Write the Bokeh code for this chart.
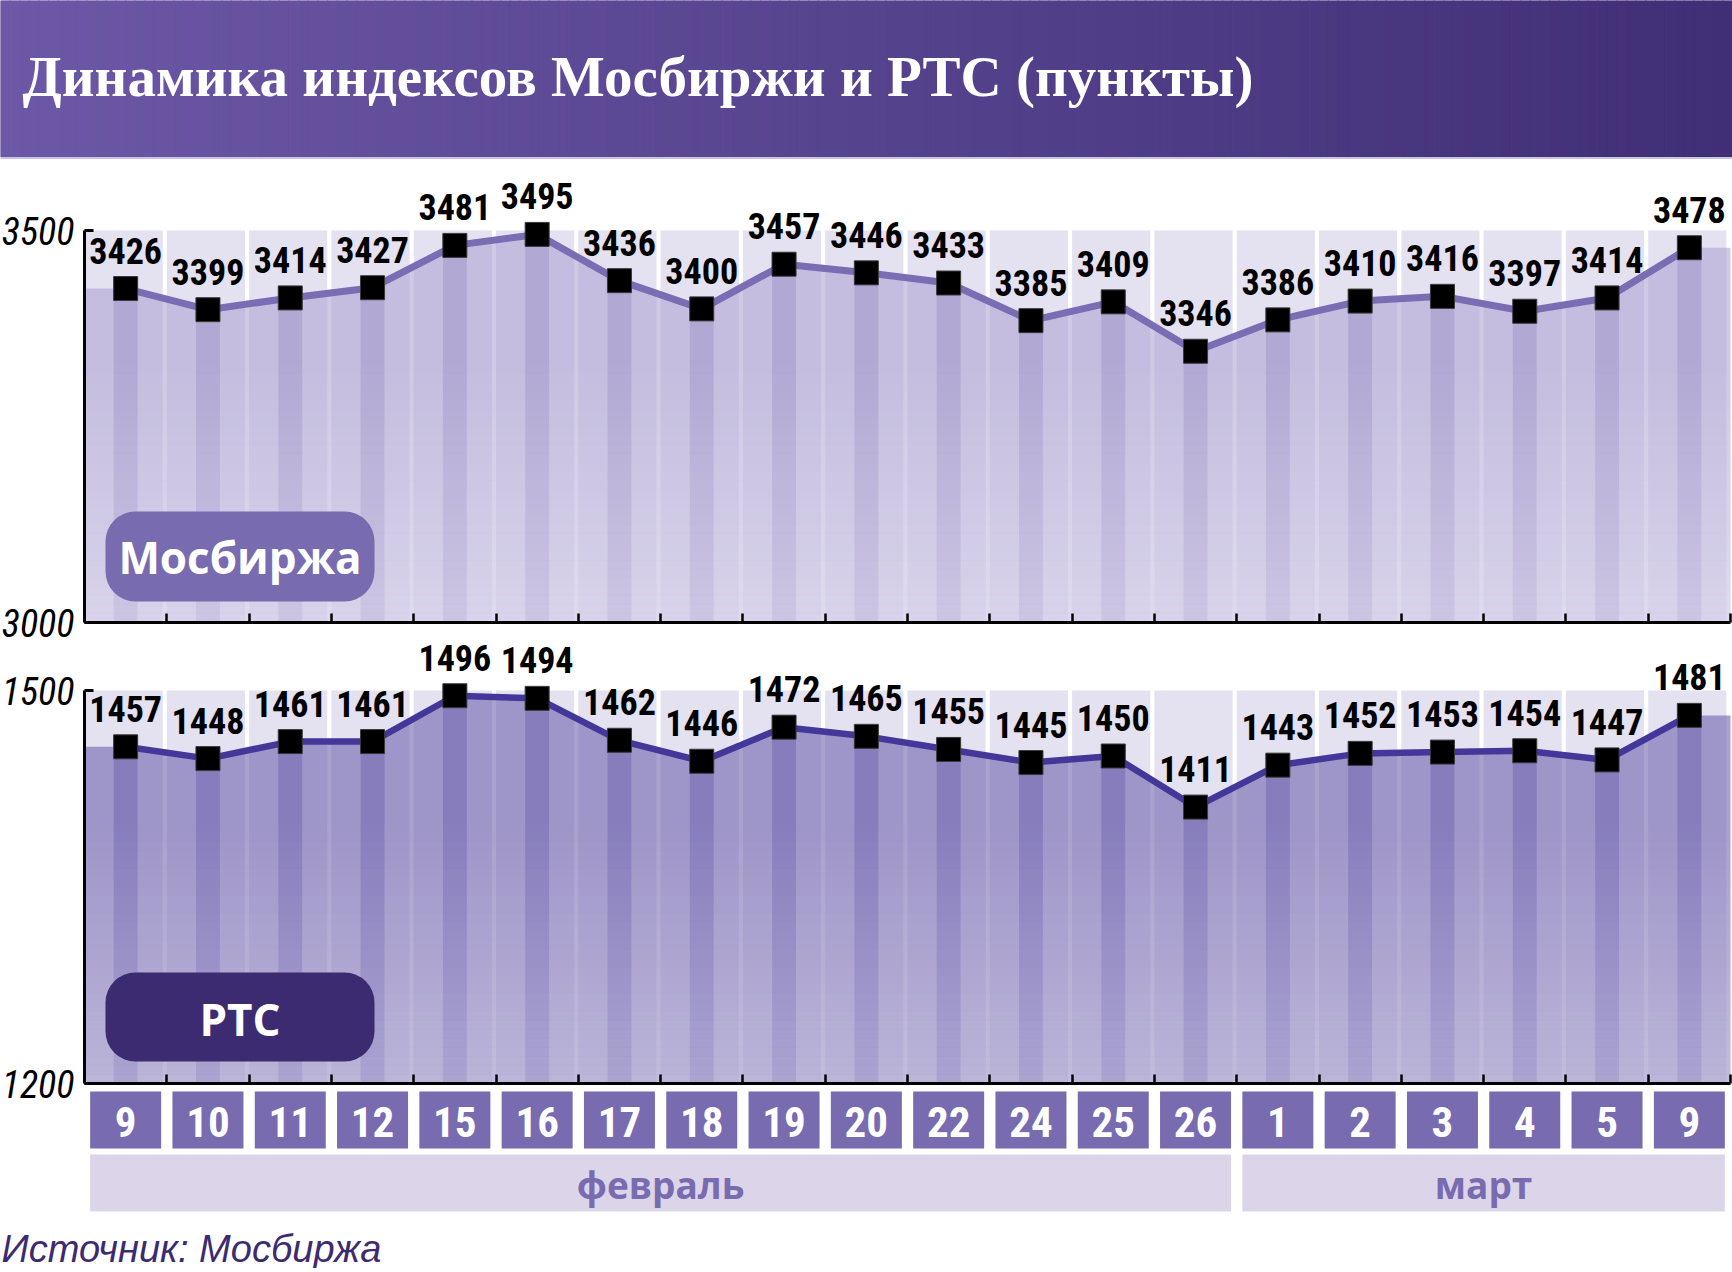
import numpy as np
from bokeh.plotting import figure
from bokeh.models import Range1d, LinearAxis, FixedTicker
from bokeh.core.properties import value
from bokeh.embed import file_html
from bokeh.resources import INLINE

# ---------------- data ----------------
title_text = "Динамика индексов Мосбиржи и РТС (пункты)"
source_text = "Источник: Мосбиржа"
day_labels = ["9", "10", "11", "12", "15", "16", "17", "18", "19", "20",
              "22", "24", "25", "26", "1", "2", "3", "4", "5", "9"]
month_names = ["февраль", "март"]
month_days = [14, 6]

moex_name = "Мосбиржа"
moex_values = [3426, 3399, 3414, 3427, 3481, 3495, 3436, 3400, 3457, 3446,
               3433, 3385, 3409, 3346, 3386, 3410, 3416, 3397, 3414, 3478]
moex_ticks = [3000, 3500]

rts_name = "РТС"
rts_values = [1457, 1448, 1461, 1461, 1496, 1494, 1462, 1446, 1472, 1465,
              1455, 1445, 1450, 1411, 1443, 1452, 1453, 1454, 1447, 1481]
rts_ticks = [1200, 1500]

# ---------------- layout (pixels) ----------------
W = 1732
H = 1268
COLW = 82.3
AXIS_X = 84
N = len(day_labels)
X0 = -AXIS_X / COLW
X_END = (W - AXIS_X) / COLW
idx = np.arange(N)
xc = idx + 0.5

NARROW = "'Roboto Condensed', Roboto, sans-serif"

p = figure(width=W, height=H, x_range=Range1d(X0, X_END), y_range=Range1d(H, 0),
           output_backend="svg", toolbar_location=None,
           x_axis_location=None, y_axis_location=None, min_border=0,
           outline_line_color=None, background_fill_color="white", border_fill_color="white")
p.xgrid.grid_line_color = None
p.ygrid.grid_line_color = None
p.extra_x_ranges = {"px": Range1d(0, W)}


def value_range(ticks, tick_px, axis_px):
    lo, hi = ticks
    k = (axis_px - tick_px) / (hi - lo)
    return Range1d(lo - (H - axis_px) / k, hi + tick_px / k)


p.extra_y_ranges = {"moex": value_range(moex_ticks, 230, 622),
                    "rts": value_range(rts_ticks, 690, 1083)}

# ---------------- header ----------------
ns = 180
xs = np.linspace(0, W, ns + 1)
c0 = np.array([108, 88, 166])
c1 = np.array([64, 46, 118])
tt = (xs[:-1] + xs[1:]) / 2 / W
grad_cols = ["#%02x%02x%02x" % tuple(int(round(v)) for v in (c0 + (c1 - c0) * t)) for t in tt]
p.quad(left=xs[:-1], right=xs[1:], top=0, bottom=156.5, x_range_name="px",
       fill_color=grad_cols, line_color=grad_cols, line_width=1)
p.quad(left=0, right=W, top=156.5, bottom=158.5, x_range_name="px",
       fill_color="#cbc3e5", line_color=None)
p.text(x=[22], y=[76], text=[title_text], x_range_name="px",
       text_align="left", text_baseline="middle",
       text_font=value("Liberation Serif"), text_font_style="bold",
       text_font_size="57px", text_color="white")


# ---------------- charts ----------------
def draw_chart(values, ticks, name, rn, fill_col, stripe_col, line_col, line_w,
               box_col, box_px, grad_from, grad_alpha):
    lo, hi = ticks
    vals = np.array(values, dtype=float)
    p.quad(left=idx, right=idx + 1 - 0.05, bottom=lo, top=hi, y_range_name=rn,
           fill_color="#e4e1f1", line_color=None)
    xa = np.concatenate([[0], xc, [N]])
    ya = np.concatenate([[vals[0]], vals, [vals[-1]]])
    p.varea(x=xa, y1=lo, y2=ya, y_range_name=rn, fill_color=fill_col, fill_alpha=0.59)
    p.vbar(x=xc, width=0.29, bottom=lo, top=vals, y_range_name=rn,
           fill_color=stripe_col, fill_alpha=0.25, line_color=None)
    nb = 30
    edges = np.linspace(grad_from, lo, nb + 1)
    alphas = np.linspace(0.0, grad_alpha, nb)
    p.quad(left=0, right=N, top=edges[:-1], bottom=edges[1:], y_range_name=rn,
           fill_color="white", fill_alpha=alphas, line_color=None)
    p.line(xc, vals, y_range_name=rn, line_color=line_col, line_width=line_w)
    p.scatter(xc, vals, y_range_name=rn, marker="square", size=24,
              fill_color="black", line_color="#3a3a3a", line_width=1)
    p.text(x=xc, y=vals, text=[str(v) for v in values], y_range_name=rn, y_offset=-38,
           text_align="center", text_baseline="middle",
           text_font=value(NARROW), text_font_style="bold",
           text_font_size="36px", text_color="black")
    l, r, t, b, ty = box_px
    p.quad(left=l, right=r, top=t, bottom=b, x_range_name="px",
           fill_color=box_col, line_color=None, border_radius=30)
    p.text(x=[(l + r) / 2], y=[ty], text=[name], x_range_name="px",
           text_align="center", text_baseline="middle",
           text_font=value("Open Sans"), text_font_style="bold",
           text_font_size="44px", text_color="white")
    yax = LinearAxis(y_range_name=rn, fixed_location=0, bounds=(lo, hi),
                     ticker=FixedTicker(ticks=ticks),
                     axis_line_width=3, axis_line_color="black",
                     major_tick_in=9, major_tick_out=0, major_tick_line_width=3,
                     major_tick_line_color="black", minor_tick_line_color=None,
                     major_label_standoff=10,
                     major_label_text_font=NARROW,
                     major_label_text_font_style="italic",
                     major_label_text_font_size="38px",
                     major_label_text_color="black")
    p.add_layout(yax, "left")
    xax = LinearAxis(y_range_name=rn, fixed_location=lo, bounds=(0, N),
                     ticker=FixedTicker(ticks=[], minor_ticks=list(range(1, N + 1))),
                     axis_line_width=3, axis_line_color="black",
                     major_tick_line_color=None,
                     minor_tick_in=9, minor_tick_out=0, minor_tick_line_width=2.5,
                     minor_tick_line_color="black")
    p.add_layout(xax, "below")


draw_chart(moex_values, moex_ticks, moex_name, "moex",
           "#aea4d2", "#7a6db3", "#7a6db3", 7, "#786bb0",
           (105, 374, 511, 601, 556), 3340, 0.34)
draw_chart(rts_values, rts_ticks, rts_name, "rts",
           "#6c5fac", "#44379a", "#44379a", 6.5, "#3c2b70",
           (105, 374, 972, 1061, 1018), 1405, 0.30)

# ---------------- footer: dates, months, source ----------------
BW = 71 / COLW
p.quad(left=xc - BW / 2, right=xc + BW / 2, top=1091, bottom=1148,
       fill_color="#786bb0", line_color=None)
p.text(x=xc, y=1121, text=day_labels, text_align="center", text_baseline="middle",
       text_font=value(NARROW), text_font_style="bold", text_font_size="43px",
       text_color="white")
md = np.array(month_days)
starts = np.concatenate([[0], np.cumsum(md)[:-1]])
ends = starts + md - 1
p.quad(left=starts + 0.5 - BW / 2, right=ends + 0.5 + BW / 2, top=1154, bottom=1211,
       fill_color="#dcd5ea", line_color=None)
p.text(x=(starts + ends) / 2 + 0.5, y=1184, text=month_names, text_align="center",
       text_baseline="middle", text_font=value("Open Sans"), text_font_style="bold",
       text_font_size="37px", text_color="#786bb0")
p.text(x=[1], y=[1248], text=[source_text], x_range_name="px", text_align="left",
       text_baseline="middle", text_font=value("Liberation Sans"),
       text_font_style="italic", text_font_size="38px", text_color="#3c2b70")

open("out.html", "w").write(file_html(p, INLINE))
